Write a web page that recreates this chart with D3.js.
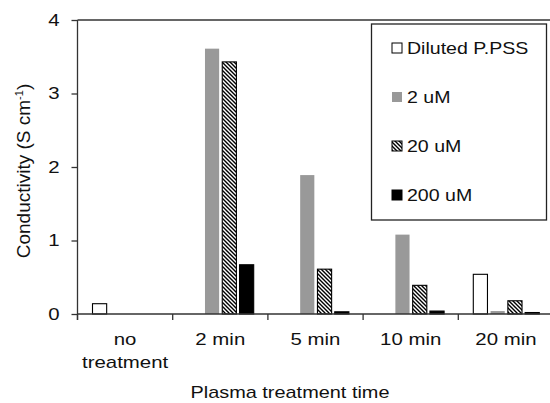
<!DOCTYPE html>
<html>
<head>
<meta charset="utf-8">
<title>Conductivity vs plasma treatment time</title>
<style>
body { margin: 0; background: #fff; }
svg { display: block; font-family: Arial, "Liberation Sans", sans-serif; }
.axis path, .axis line { fill: none; stroke: #333; stroke-width: 1.3px; }
text { fill: #111; }
</style>
</head>
<body>
<script src="https://cdn.jsdelivr.net/npm/d3@7"></script>
<script>
// data (null = no bar)
var categories = ["no treatment", "2 min", "5 min", "10 min", "20 min"];
var xLabels = [["no", "treatment"], ["2 min"], ["5 min"], ["10 min"], ["20 min"]];
var seriesNames = ["Diluted P.PSS", "2 uM", "20 uM", "200 uM"];
var diluted = [0.14, null, null, null, 0.54];
var uM2 = [null, 3.61, 1.89, 1.08, 0.04];
var uM20 = [null, 3.43, 0.61, 0.39, 0.18];
var uM200 = [null, 0.67, 0.03, 0.04, 0.02];
var yTicks = [0, 1, 2, 3, 4];

var seriesValues = [diluted, uM2, uM20, uM200];
var width = 550, height = 403;
var plotLeft = 77.5, plotTop = 20, plotBottom = 314;
var catStep = 95.2;
var fontSize = "17px";

var svg = d3.select("body").append("svg")
    .attr("width", width)
    .attr("height", height);

// hatch pattern for the 20 uM series
var defs = svg.append("defs");
var pat = defs.append("pattern")
    .attr("id", "hatch")
    .attr("patternUnits", "userSpaceOnUse")
    .attr("width", 4)
    .attr("height", 4);
pat.append("rect").attr("width", 4).attr("height", 4).attr("fill", "#fff");
pat.append("path")
    .attr("d", "M-1,-1L5,5M-1,3L1,5M3,-1L5,1")
    .attr("stroke", "#000")
    .attr("stroke-width", 1.4);

var fills = ["#fff", "#999", "url(#hatch)", "#000"];
var strokes = ["#000", "none", "#000", "#000"];

// the text in the figure is drawn wider than normal, stretch it the same way
function stretch(sel, k) {
    sel.each(function() {
        var w = this.getComputedTextLength();
        d3.select(this)
            .attr("textLength", w * k)
            .attr("lengthAdjust", "spacingAndGlyphs");
    });
}

var x0 = d3.scaleBand()
    .domain(categories)
    .range([plotLeft, plotLeft + catStep * categories.length])
    .paddingInner(0)
    .paddingOuter(0);

var x1 = d3.scaleBand()
    .domain(seriesNames)
    .range([15, 81])
    .paddingInner(0.18);

var y = d3.scaleLinear()
    .domain([0, 4])
    .range([plotBottom, plotTop]);

// bars
var rows = [];
categories.forEach(function(c, i) {
    seriesNames.forEach(function(s, j) {
        if (seriesValues[j][i] != null) {
            rows.push({cat: c, series: s, idx: j, value: seriesValues[j][i]});
        }
    });
});

svg.selectAll(".bar")
    .data(rows)
    .enter().append("rect")
    .attr("class", "bar")
    .attr("x", function(d) { return x0(d.cat) + x1(d.series); })
    .attr("width", x1.bandwidth())
    .attr("y", function(d) { return y(d.value); })
    .attr("height", function(d) { return plotBottom - y(d.value); })
    .attr("fill", function(d) { return fills[d.idx]; })
    .attr("stroke", function(d) { return strokes[d.idx]; })
    .attr("stroke-width", 1.1);

// y axis
var yAxis = d3.axisLeft(y)
    .tickValues(yTicks)
    .tickSize(6)
    .tickSizeOuter(0)
    .tickPadding(12)
    .tickFormat(d3.format("d"));

var gy = svg.append("g")
    .attr("class", "axis")
    .attr("transform", "translate(" + plotLeft + ",0)")
    .call(yAxis);
gy.select(".domain").remove();
gy.selectAll("text")
    .style("font-size", fontSize)
    .style("font-family", "Arial, 'Liberation Sans', sans-serif")
    .attr("fill", "#111");
stretch(gy.selectAll("text"), 1.2);

// y axis line, running down to the first x tick
svg.append("line")
    .attr("x1", plotLeft).attr("x2", plotLeft)
    .attr("y1", plotTop).attr("y2", plotBottom + 6)
    .attr("stroke", "#333").attr("stroke-width", 1.3);

// x axis line with ticks on category boundaries
var xr = x0.range();
svg.append("line")
    .attr("x1", xr[0]).attr("x2", xr[1])
    .attr("y1", plotBottom).attr("y2", plotBottom)
    .attr("stroke", "#333").attr("stroke-width", 1.3);
var bounds = categories.map(function(c) { return x0(c); });
svg.selectAll(".xtick")
    .data(bounds)
    .enter().append("line")
    .attr("class", "xtick")
    .attr("x1", function(d) { return d; })
    .attr("x2", function(d) { return d; })
    .attr("y1", plotBottom)
    .attr("y2", plotBottom + 6)
    .attr("stroke", "#333").attr("stroke-width", 1.3);

// top frame line
svg.append("line")
    .attr("x1", xr[0]).attr("x2", xr[1])
    .attr("y1", plotTop).attr("y2", plotTop)
    .attr("stroke", "#333").attr("stroke-width", 1.3);

// category labels
categories.forEach(function(c, i) {
    xLabels[i].forEach(function(line, k) {
        var t = svg.append("text")
            .attr("x", x0(c) + x0.bandwidth() / 2)
            .attr("y", 345 + k * 22.5)
            .attr("text-anchor", "middle")
            .style("font-size", fontSize)
            .text(line);
        stretch(t, 1.2);
    });
});

// axis titles
var xt = svg.append("text")
    .attr("x", 290)
    .attr("y", 398)
    .attr("text-anchor", "middle")
    .style("font-size", fontSize)
    .text("Plasma treatment time");
stretch(xt, 1.17);

var yt = svg.append("text")
    .attr("transform", "translate(30,171) rotate(-90)")
    .attr("text-anchor", "middle")
    .style("font-size", "19px")
    .text("Conductivity (S cm");
yt.append("tspan").attr("dy", -7).style("font-size", "11px").text("-1");
yt.append("tspan").attr("dy", 7).text(")");

// legend
svg.append("rect")
    .attr("x", 371.5).attr("y", 24)
    .attr("width", 175).attr("height", 196)
    .attr("fill", "#fff")
    .attr("stroke", "#222")
    .attr("stroke-width", 1.3);

var legend = svg.selectAll(".legend")
    .data(seriesNames)
    .enter().append("g")
    .attr("class", "legend")
    .attr("transform", function(d, i) { return "translate(392," + (48 + i * 49) + ")"; });

legend.append("rect")
    .attr("x", 0).attr("y", -5)
    .attr("width", 10).attr("height", 10)
    .attr("fill", function(d, i) { return fills[i]; })
    .attr("stroke", function(d, i) { return strokes[i]; })
    .attr("stroke-width", 1);

legend.append("text")
    .attr("x", 15)
    .attr("y", 6)
    .style("font-size", fontSize)
    .text(function(d) { return d; })
    .call(stretch, 1.15);
</script>
</body>
</html>
